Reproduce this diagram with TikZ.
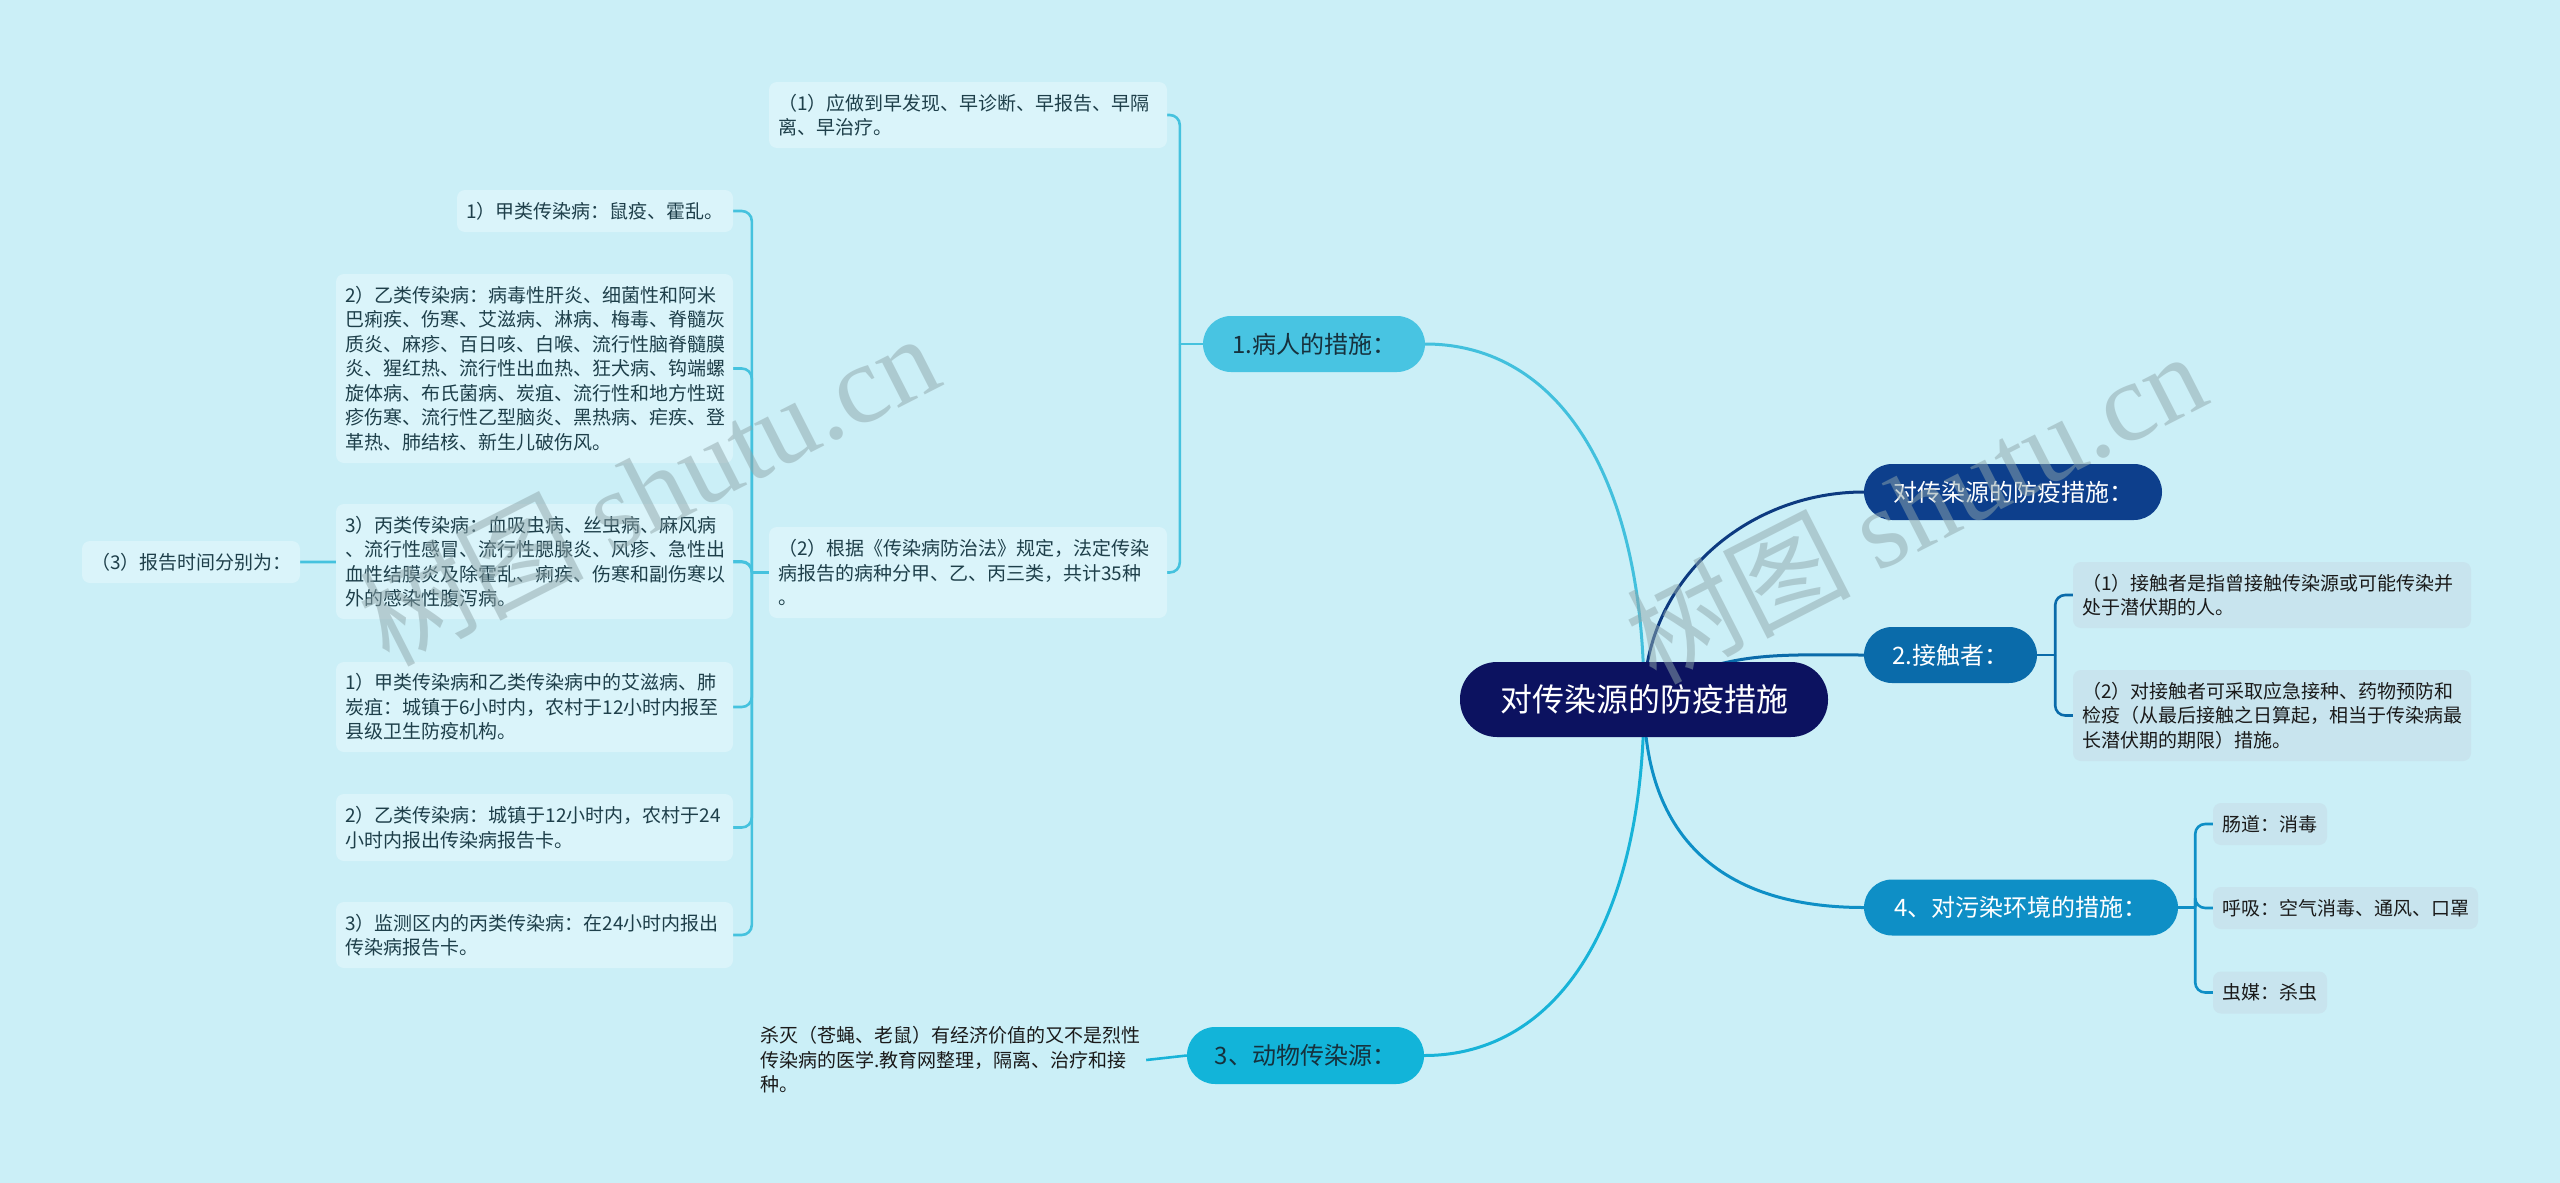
\documentclass[tikz,border=0pt]{standalone}
\usepackage{fontspec}
\setmainfont{Noto Sans CJK SC}
\newfontfamily\wmfont{Liberation Serif}
\usetikzlibrary{calc}
\pgfdeclarelayer{background}
\pgfsetlayers{background,main}
\definecolor{bg}{HTML}{CBEFF7}
\definecolor{lbox}{HTML}{DAF4FA}
\definecolor{rbox}{HTML}{C8E4EE}
\definecolor{ltext}{HTML}{1E3F4A}
\definecolor{rtext}{HTML}{1A1A1A}
\definecolor{rootc}{HTML}{0C1260}
\definecolor{rone}{HTML}{0D3F8C}
\definecolor{rtwo}{HTML}{0A6BAA}
\definecolor{rfour}{HTML}{0E8FC6}
\definecolor{nodeonefill}{HTML}{48C4E2}
\definecolor{nthree}{HTML}{12B4D9}
\definecolor{mtext}{HTML}{16313D}
\definecolor{lcyan}{HTML}{45C2DE}
\definecolor{lonecon}{HTML}{42C0DD}
\definecolor{lthreecon}{HTML}{18B3D8}
\definecolor{ronecon}{HTML}{0D3A80}
\definecolor{wmgray}{HTML}{8FA6AA}
\tikzset{
  lsub/.style={fill=lbox, rounded corners=8pt, inner xsep=9pt, inner ysep=0pt,
    align=left, text=ltext, font=\fontsize{19}{24.5}\selectfont},
  rsub/.style={fill=rbox, rounded corners=8pt, inner xsep=9pt, inner ysep=0pt,
    align=left, text=rtext, font=\fontsize{19}{24.5}\selectfont},
  mainnode/.style={rounded corners=28pt, inner sep=0pt, align=center,
    font=\fontsize{24}{28}\selectfont},
  mainline/.style={line width=3pt},
  brk/.style={line width=2.6pt},
  wm/.style={text=wmgray, text opacity=0.5, rotate=27, inner sep=0pt}
}
\begin{document}
\begin{tikzpicture}[x=1pt,y=-1pt]
\useasboundingbox (0,0) rectangle (2560,1183);

% root and main branches
\node[mainnode, fill=rootc, text=white, rounded corners=37pt, minimum width=368pt, minimum height=75pt, font=\fontsize{32}{36}\selectfont] (root) at (1644,699.5) {对传染源的防疫措施};
\node[mainnode, fill=rone, text=white, minimum width=298pt, minimum height=56pt] (R1) at (2013,492) {对传染源的防疫措施：};
\node[mainnode, fill=rtwo, text=white, minimum width=173pt, minimum height=56pt] (R2) at (1950.5,655) {2.接触者：};
\node[mainnode, fill=rfour, text=white, minimum width=314pt, minimum height=56pt] (R4) at (2021,907.5) {4、对污染环境的措施：};
\node[mainnode, fill=nodeonefill, text=mtext, minimum width=222pt, minimum height=56pt] (n1) at (1314,344) {1.病人的措施：};
\node[mainnode, fill=nthree, text=mtext, minimum width=237pt, minimum height=57pt] (n3) at (1305.5,1055.5) {3、动物传染源：};

% left side boxes
\node[lsub, text width=380pt, minimum height=66pt] (p1) at (968,115) {（1）应做到早发现、早诊断、早报告、早隔\\离、早治疗。};
\node[lsub, text width=380pt, minimum height=91pt] (p2) at (968,572.5) {（2）根据《传染病防治法》规定，法定传染\\病报告的病种分甲、乙、丙三类，共计35种\\。};
\node[lsub, text width=258pt, minimum height=42pt] (c1) at (595,211) {1）甲类传染病：鼠疫、霍乱。};
\node[lsub, text width=379pt, minimum height=189pt] (c2) at (534.5,368.5) {2）乙类传染病：病毒性肝炎、细菌性和阿米\\巴痢疾、伤寒、艾滋病、淋病、梅毒、脊髓灰\\质炎、麻疹、百日咳、白喉、流行性脑脊髓膜\\炎、猩红热、流行性出血热、狂犬病、钩端螺\\旋体病、布氏菌病、炭疽、流行性和地方性斑\\疹伤寒、流行性乙型脑炎、黑热病、疟疾、登\\革热、肺结核、新生儿破伤风。};
\node[lsub, text width=379pt, minimum height=115pt] (c3) at (534.5,561.5) {3）丙类传染病：血吸虫病、丝虫病、麻风病\\、流行性感冒、流行性腮腺炎、风疹、急性出\\血性结膜炎及除霍乱、痢疾、伤寒和副伤寒以\\外的感染性腹泻病。};
\node[lsub, text width=200pt, minimum height=42pt] (rep) at (191,562) {（3）报告时间分别为：};
\node[lsub, text width=379pt, minimum height=90pt] (c4) at (534.5,707) {1）甲类传染病和乙类传染病中的艾滋病、肺\\炭疽：城镇于6小时内，农村于12小时内报至\\县级卫生防疫机构。};
\node[lsub, text width=379pt, minimum height=67pt] (c5) at (534.5,827.5) {2）乙类传染病：城镇于12小时内，农村于24\\小时内报出传染病报告卡。};
\node[lsub, text width=379pt, minimum height=66pt] (c6) at (534.5,935) {3）监测区内的丙类传染病：在24小时内报出\\传染病报告卡。};
\node[inner sep=0pt, text width=386pt, align=left, text=rtext, font=\fontsize{19}{24.5}\selectfont] (anim) at (953,1060) {杀灭（苍蝇、老鼠）有经济价值的又不是烈性\\传染病的医学.教育网整理，隔离、治疗和接\\种。};

% right side boxes
\node[rsub, text width=380pt, minimum height=66pt] (k1) at (2272,595) {（1）接触者是指曾接触传染源或可能传染并\\处于潜伏期的人。};
\node[rsub, text width=380pt, minimum height=91pt] (k2) at (2272,715.5) {（2）对接触者可采取应急接种、药物预防和\\检疫（从最后接触之日算起，相当于传染病最\\长潜伏期的期限）措施。};
\node[rsub, text width=96pt, minimum height=42pt] (e1) at (2270,824) {肠道：消毒};
\node[rsub, text width=247pt, minimum height=42pt] (e2) at (2345.5,908) {呼吸：空气消毒、通风、口罩};
\node[rsub, text width=96pt, minimum height=42pt] (e3) at (2270,992.5) {虫媒：杀虫};

\begin{pgfonlayer}{background}
\fill[bg] (0,0) rectangle (2560,1183);
% root connectors
\draw[mainline, ronecon] (root.center) .. controls ($(root.center)+(0,-118)$) and ($(R1.west)+(-118,0)$) .. (R1.west);
\draw[mainline, rtwo] (root.center) .. controls ($(root.center)+(72,-50)$) and ($(R2.west)+(-88,0)$) .. (R2.west);
\draw[mainline, rfour] (root.center) .. controls ($(root.center)+(0,140)$) and ($(R4.west)+(-140,0)$) .. (R4.west);
\draw[mainline, lonecon] (root.center) .. controls ($(root.center)+(0,-220)$) and ($(n1.east)+(135,0)$) .. (n1.east);
\draw[mainline, lthreecon] (root.center) .. controls ($(root.center)+(0,220)$) and ($(n3.east)+(135,0)$) .. (n3.east);
% brackets
\draw[brk, lcyan] (n1.west) -- ++(-23,0) coordinate (b1);
\draw[brk, lcyan, rounded corners=10pt] (b1) |- (p1.east);
\draw[brk, lcyan, rounded corners=10pt] (b1) |- (p2.east);
\draw[brk, lcyan] (p2.west) -- ++(-17,0) coordinate (b2);
\draw[brk, lcyan, rounded corners=10pt] (b2) |- (c1.east);
\draw[brk, lcyan, rounded corners=10pt] (b2) |- (c2.east);
\draw[brk, lcyan, rounded corners=10pt] (b2) |- (c3.east);
\draw[brk, lcyan, rounded corners=10pt] (b2) |- (rep.east);
\draw[brk, lcyan, rounded corners=10pt] (b2) |- (c4.east);
\draw[brk, lcyan, rounded corners=10pt] (b2) |- (c5.east);
\draw[brk, lcyan, rounded corners=10pt] (b2) |- (c6.east);
\draw[brk, lthreecon] (n3.west) -- (anim.east);
\draw[brk, rtwo] (R2.east) -- ++(18,0) coordinate (b3);
\draw[brk, rtwo, rounded corners=10pt] (b3) |- (k1.west);
\draw[brk, rtwo, rounded corners=10pt] (b3) |- (k2.west);
\draw[brk, rfour] (R4.east) -- ++(17,0) coordinate (b4);
\draw[brk, rfour, rounded corners=10pt] (b4) |- (e1.west);
\draw[brk, rfour, rounded corners=10pt] (b4) |- (e2.west);
\draw[brk, rfour, rounded corners=10pt] (b4) |- (e3.west);
\end{pgfonlayer}

% watermarks
\node[wm] (wm1) at (648,488) {\fontsize{112}{112}\selectfont 树图 {\wmfont shutu.cn}};
\node[wm] (wm2) at (1915,506) {\fontsize{112}{112}\selectfont 树图 {\wmfont shutu.cn}};
\end{tikzpicture}
\end{document}
